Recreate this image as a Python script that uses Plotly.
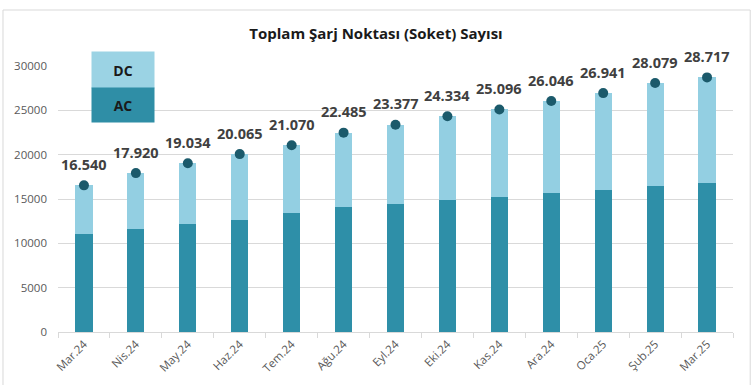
import plotly.graph_objects as go

months = ["Mar.24", "Nis.24", "May.24", "Haz.24", "Tem.24", "Ağu.24", "Eyl.24",
          "Eki.24", "Kas.24", "Ara.24", "Oca.25", "Şub.25", "Mar.25"]
total = [16540, 17920, 19034, 20065, 21070, 22485, 23377,
         24334, 25096, 26046, 26941, 28079, 28717]
ac = [11020, 11600, 12180, 12640, 13380, 14130, 14440,
      14890, 15260, 15640, 16010, 16470, 16840]
dc = [t - a for t, a in zip(total, ac)]
yticks = [0, 5000, 10000, 15000, 20000, 25000, 30000]

C_DC = "#93CFE2"
C_AC = "#2E8FA8"
C_DOT = "#1B5A6B"
FONT = "Open Sans"

def tr_fmt(v):
    return f"{v:,}".replace(",", ".")

fig = go.Figure()
fig.add_trace(go.Bar(x=months, y=ac, name="AC", marker=dict(color=C_AC, line=dict(width=0))))
fig.add_trace(go.Bar(x=months, y=dc, name="DC", marker=dict(color=C_DC, line=dict(width=0))))
fig.add_trace(go.Scatter(x=months, y=total, mode="markers", name="Toplam",
                         marker=dict(color=C_DOT, size=10), cliponaxis=False))

for m, t in zip(months, total):
    fig.add_annotation(x=m, y=t, text=tr_fmt(t), showarrow=False, yshift=21,
                       font=dict(family=FONT, size=14.5, color="#404040", weight="bold"))

# legend boxes
fig.add_annotation(xref="paper", yref="paper", x=0.0963, y=0.985, text="<b>DC</b>",
                   xanchor="center", yanchor="middle",
                   showarrow=False, width=60, height=34, bgcolor="#9BD3E4",
                   font=dict(family=FONT, size=14, color="#1a1a1a"), borderpad=1)
fig.add_annotation(xref="paper", yref="paper", x=0.0963, y=0.853, text="<b>AC</b>",
                   xanchor="center", yanchor="middle",
                   showarrow=False, width=60, height=32, bgcolor="#2F8EA6",
                   font=dict(family=FONT, size=14, color="#1a1a1a"), borderpad=1)

# outer frame
fig.add_shape(type="rect", xref="paper", yref="paper", x0=-0.0815, x1=1.0255,
              y0=-0.25, y1=1.2105, line=dict(color="#D9D9D9", width=1), layer="below")

fig.update_layout(
    width=752, height=385,
    margin=dict(l=58, r=19, t=66, b=53),
    paper_bgcolor="white", plot_bgcolor="white",
    barmode="stack", bargap=0.67,
    showlegend=False,
    title=dict(text="<b>Toplam Şarj Noktası (Soket) Sayısı</b>", x=0.5, xanchor="center",
               y=1 - 34 / 385, yanchor="middle", yref="container",
               font=dict(family=FONT, size=15, color="#1a1a1a")),
    font=dict(family=FONT, color="#595959"),
)
fig.update_xaxes(range=[-0.5, len(months) - 0.5], showline=True, linecolor="#D9D9D9",
                 linewidth=1, ticks="outside", tickson="boundaries", ticklen=5,
                 tickcolor="#D9D9D9", tickangle=-45,
                 tickfont=dict(family=FONT, size=11.5, color="#595959"), showgrid=False,
                 automargin=False)
fig.update_yaxes(range=[0, 30000], tickvals=yticks, tickformat="d", showgrid=True,
                 gridcolor="#D9D9D9", gridwidth=1, zeroline=False, showline=False,
                 tickfont=dict(family=FONT, size=11.5, color="#595959"),
                 ticklabelstandoff=10, automargin=False)

fig.write_html("out.html", config={"displayModeBar": False},
               post_script="document.body.style.margin='0';")
